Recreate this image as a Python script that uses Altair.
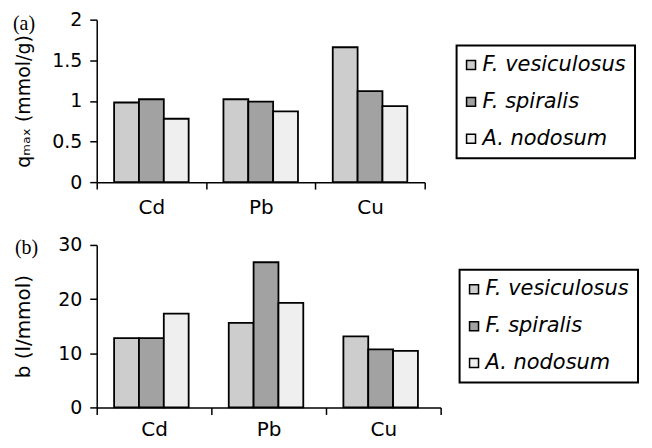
import altair as alt
import pandas as pd

metals = ["Cd", "Pb", "Cu"]
species = ["F. vesiculosus", "F. spiralis", "A. nodosum"]

qmax_fves = [0.98, 1.02, 1.66]
qmax_fspi = [1.02, 0.99, 1.12]
qmax_anod = [0.78, 0.87, 0.935]

b_fves = [12.8, 15.6, 13.1]
b_fspi = [12.8, 26.8, 10.7]
b_anod = [17.3, 19.3, 10.45]

qmax_ticks = [0, 0.5, 1, 1.5, 2]
b_ticks = [0, 10, 20, 30]

fills = ["#cdcdcd", "#a2a2a2", "#efefef"]

FONT = "DejaVu Sans"


def table(series):
    rows = []
    for sp, vals in zip(species, series):
        for m, v in zip(metals, vals):
            rows.append({"metal": m, "species": sp, "value": v})
    return pd.DataFrame(rows)


def panel(df, tag, ytitle, ytitle_size, ticks, width, xoff_pad, xlabpad,
          legx, legy, tagx, tagy):
    bars = alt.Chart(df).mark_bar(stroke="black", strokeWidth=1.8).encode(
        x=alt.X(
            "metal:N", sort=metals, title=None,
            scale=alt.Scale(paddingInner=0, paddingOuter=0),
            axis=alt.Axis(tickBand="extent", labelAngle=0, labelFontSize=20,
                          labelPadding=xlabpad),
        ),
        xOffset=alt.XOffset(
            "species:N", sort=species,
            scale=alt.Scale(paddingInner=0, paddingOuter=xoff_pad),
        ),
        y=alt.Y(
            "value:Q",
            scale=alt.Scale(domain=[ticks[0], ticks[-1]], nice=False),
            axis=alt.Axis(values=ticks, format="~r", title=ytitle,
                          titleFontSize=ytitle_size,
                          labelFontSize=19, labelPadding=8,
                          minExtent=46, maxExtent=46, titlePadding=17),
        ),
        fill=alt.Fill(
            "species:N", sort=species,
            scale=alt.Scale(domain=species, range=fills),
            legend=alt.Legend(orient="none", legendX=legx, legendY=legy, title=None),
        ),
    )
    tag_df = pd.DataFrame({"tag": [tag]})
    label = alt.Chart(tag_df).mark_text(
        font="Liberation Serif", fontSize=20, align="left", baseline="middle",
        color="black",
    ).encode(text="tag:N", x=alt.value(tagx), y=alt.value(tagy))
    return alt.layer(bars, label).properties(width=width, height=163)


pa = panel(table([qmax_fves, qmax_fspi, qmax_anod]), "(a)", "qₘₐₓ (mmol/g)", 19,
           qmax_ticks, 329, 0.7, 8, 361, 26, -84, 4)
pb = panel(table([b_fves, b_fspi, b_anod]), "(b)", "b (l/mmol)", 20,
           b_ticks, 345, 0.77, 5, 364, 25, -82, 3)

chart = (
    alt.vconcat(pa, pb, spacing=19)
    .resolve_scale(fill="independent")
    .resolve_legend(fill="independent")
    .properties(padding={"left": 5, "top": 2, "right": 5, "bottom": 0})
    .configure_view(stroke=None)
    .configure_axis(
        domainColor="black", domainWidth=1.5, tickColor="black", tickWidth=1.5,
        tickSize=7, labelColor="black", labelFont=FONT, titleFont=FONT,
        titleFontWeight="normal", titleColor="black",
        grid=False,
    )
    .configure_legend(
        labelFont=FONT, labelFontSize=21, labelFontStyle="italic",
        labelColor="black", symbolType="square", symbolSize=81,
        symbolStrokeColor="black", symbolStrokeWidth=1.5, labelOffset=1,
        symbolOffset=-5, rowPadding=15, padding=9, strokeColor="black",
        strokeWidth=2, fillColor="white",
    )
)

chart.save("out.html", embed_options={"renderer": "svg", "actions": False})
